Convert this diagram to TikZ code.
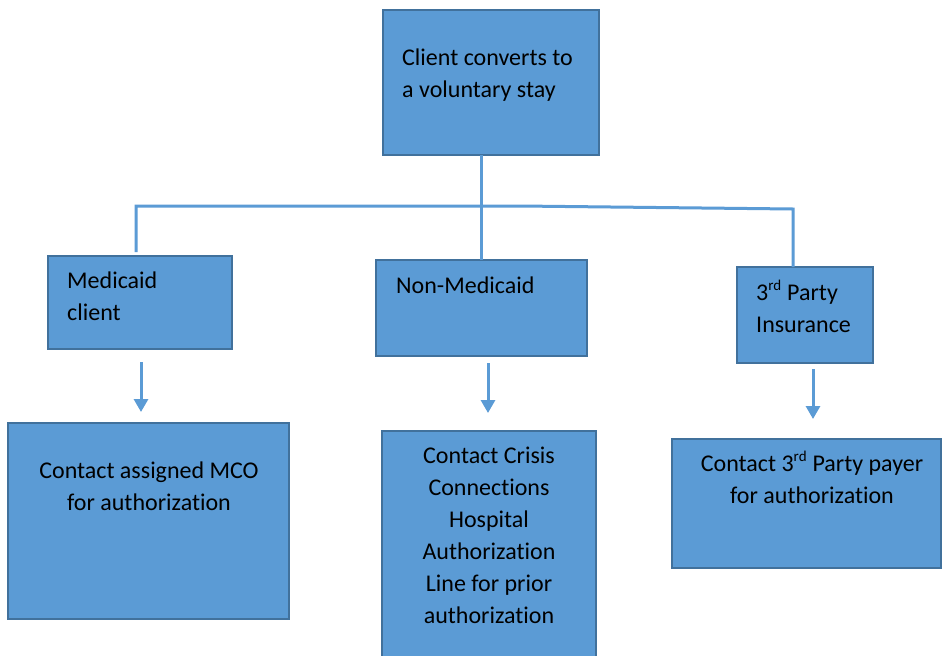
\documentclass[tikz,border=0pt]{standalone}
\usepackage{fontspec}
\setmainfont[Ligatures=NoCommon]{Carlito}
\usetikzlibrary{arrows.meta}
\definecolor{boxfill}{HTML}{5B9BD5}
\definecolor{boxline}{HTML}{41719C}
\begin{document}
\begin{tikzpicture}[x=1pt,y=-1pt,
  box/.style={draw=boxline,fill=boxfill,line width=2.5pt,inner sep=0pt,outer sep=0pt},
  conn/.style={draw=boxfill,line width=3pt},
  arr/.style={draw=boxfill,line width=3pt,-{Triangle[width=14pt,length=13pt]}},
  txt/.style={inner sep=0pt,font=\fontsize{24}{32}\selectfont,text=black}]
\clip (0,0) rectangle (943,656);
\fill[white] (0,0) rectangle (943,656);
% boxes
\node[box,minimum width=216pt,minimum height=145pt] (top) at (491,82.5) {};
\node[box,minimum width=184pt,minimum height=93pt] (med) at (140,302.5) {};
\node[box,minimum width=211pt,minimum height=96pt] (nonmed) at (481.5,308) {};
\node[box,minimum width=136pt,minimum height=96pt] (third) at (805,315) {};
\node[box,minimum width=281pt,minimum height=196pt] (mco) at (148.5,521) {};
\node[box,minimum width=214pt,minimum height=258pt] (crisis) at (489,560) {};
\node[box,minimum width=269pt,minimum height=129pt] (payer) at (806.5,503.5) {};
% texts (anchor = baseline of the last line)
\node[txt,anchor=base west,align=left] (ttop) at (402,97) {Client converts to\\a voluntary stay};
\node[txt,anchor=base west,align=left] (tmed) at (67,320) {Medicaid\\client};
\node[txt,anchor=base west,align=left] (tnonmed) at (396,293) {Non-Medicaid};
\node[txt,anchor=base west,align=left] (tthird) at (756,332) {3\textsuperscript{\fontsize{15}{15}\selectfont rd} Party\\Insurance};
\node[txt,anchor=base,align=center] (tmco) at (149,510) {Contact assigned MCO\\for authorization};
\node[txt,anchor=base,align=center] (tcrisis) at (489,623) {Contact Crisis\\Connections\\Hospital\\Authorization\\Line for prior\\authorization};
\node[txt,anchor=base,align=center] (tpayer) at (812,503) {Contact 3\textsuperscript{\fontsize{15}{15}\selectfont rd} Party payer\\for authorization};
% connectors
\coordinate (hL) at (136,206);
\coordinate (hM) at (520,206);
\coordinate (hR) at (793,209);
\coordinate (medin) at (136,252);
\draw[conn] (top.south -| nonmed.north) -- (nonmed.north);
\draw[conn] (medin) -- (hL) -- (hM) -- (hR) -- (hR |- third.north);
% arrows
\coordinate (a1s) at (141,362); \coordinate (a1e) at (141,412);
\coordinate (a2s) at (488,363); \coordinate (a2e) at (488,413);
\coordinate (a3s) at (813,369); \coordinate (a3e) at (813,419);
\draw[arr] (a1s) -- (a1e);
\draw[arr] (a2s) -- (a2e);
\draw[arr] (a3s) -- (a3e);
\end{tikzpicture}
\end{document}
